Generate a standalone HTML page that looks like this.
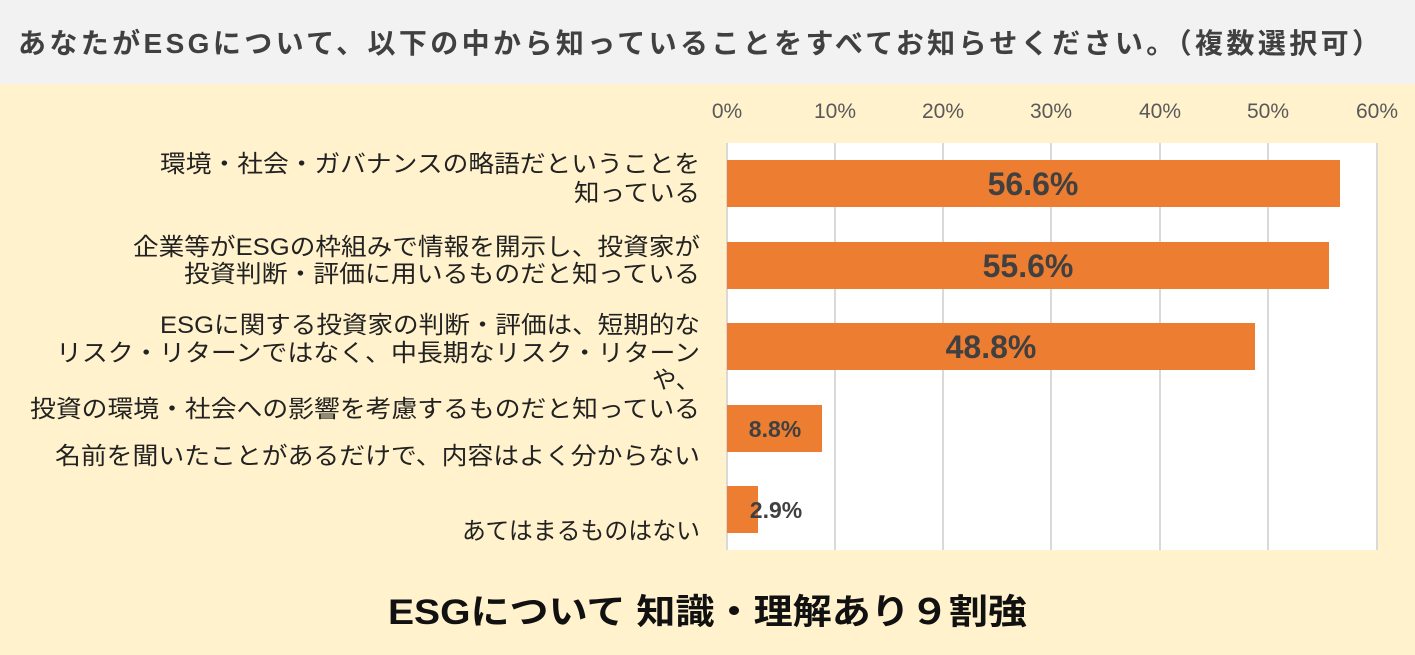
<!DOCTYPE html>
<html><head><meta charset="utf-8"><style>
html,body{margin:0;padding:0;}
body{width:1415px;height:655px;overflow:hidden;background:#fff2cc;}
svg{display:block;}
text{font-family:"Liberation Sans","Noto Sans CJK JP",sans-serif;}
</style></head><body>
<svg width="1415" height="655" viewBox="0 0 1415 655">
<rect x="0" y="0" width="1415" height="655" fill="#fff2cc"/>
<rect x="0" y="0" width="1415" height="84" fill="#f2f2f2"/>
<text x="18" y="53" font-size="28" font-weight="bold" fill="#404040" textLength="1362" lengthAdjust="spacing">あなたがESGについて、以下の中から知っていることをすべてお知らせください。（複数選択可）</text>
<rect x="727" y="143" width="650" height="407" fill="#ffffff"/>
<g stroke="#d9d9d9" stroke-width="2">
<line x1="727" y1="143" x2="727" y2="550"/><line x1="835" y1="143" x2="835" y2="550"/><line x1="943" y1="143" x2="943" y2="550"/><line x1="1051" y1="143" x2="1051" y2="550"/><line x1="1160" y1="143" x2="1160" y2="550"/><line x1="1268" y1="143" x2="1268" y2="550"/><line x1="1377" y1="143" x2="1377" y2="550"/>
</g>
<g font-size="21" fill="#595959" text-anchor="middle">
<text x="727" y="118">0%</text><text x="835" y="118">10%</text><text x="943" y="118">20%</text><text x="1051" y="118">30%</text><text x="1160" y="118">40%</text><text x="1268" y="118">50%</text><text x="1377" y="118">60%</text>
</g>
<g fill="#ed7d31">
<rect x="727" y="160" width="613" height="47"/>
<rect x="727" y="242" width="602" height="47"/>
<rect x="727" y="323" width="528" height="47"/>
<rect x="727" y="405" width="95" height="47"/>
<rect x="727" y="486" width="31" height="47"/>
</g>
<g font-weight="bold" fill="#404040" text-anchor="middle">
<text x="1033" y="195" font-size="32">56.6%</text>
<text x="1028" y="277" font-size="32">55.6%</text>
<text x="991" y="358" font-size="32">48.8%</text>
<text x="775" y="437" font-size="23">8.8%</text>
<text x="776" y="518" font-size="23">2.9%</text>
</g>
<g font-size="24" fill="#222222">
<text x="160" y="172" textLength="540" lengthAdjust="spacingAndGlyphs">環境・社会・ガバナンスの略語だということを</text>
<text x="574" y="201" textLength="126" lengthAdjust="spacingAndGlyphs">知っている</text>
<text x="133" y="255" textLength="567" lengthAdjust="spacingAndGlyphs">企業等がESGの枠組みで情報を開示し、投資家が</text>
<text x="184" y="282" textLength="516" lengthAdjust="spacingAndGlyphs">投資判断・評価に用いるものだと知っている</text>
<text x="160" y="333" textLength="540" lengthAdjust="spacingAndGlyphs">ESGに関する投資家の判断・評価は、短期的な</text>
<text x="56" y="361" textLength="644" lengthAdjust="spacingAndGlyphs">リスク・リターンではなく、中長期なリスク・リターン</text>
<text x="652" y="388" textLength="48" lengthAdjust="spacingAndGlyphs">や、</text>
<text x="30" y="417" textLength="670" lengthAdjust="spacingAndGlyphs">投資の環境・社会への影響を考慮するものだと知っている</text>
<text x="55" y="464" textLength="645" lengthAdjust="spacingAndGlyphs">名前を聞いたことがあるだけで、内容はよく分からない</text>
<text x="462" y="539" textLength="238" lengthAdjust="spacingAndGlyphs">あてはまるものはない</text>
</g>
<text x="388" y="624" font-size="35" font-weight="bold" fill="#111111" textLength="639" lengthAdjust="spacingAndGlyphs">ESGについて 知識・理解あり９割強</text>
</svg>
</body></html>
